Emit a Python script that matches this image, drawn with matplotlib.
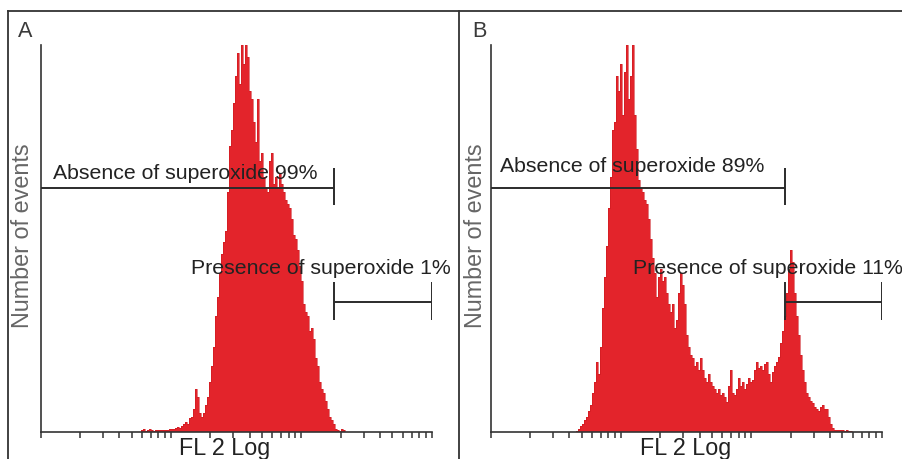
import numpy as np
import matplotlib
matplotlib.use("Agg")
import matplotlib.pyplot as plt
from matplotlib.lines import Line2D
from matplotlib.ticker import LogLocator, NullFormatter

# ---------------- data ----------------
# histogram counts (% of peak) in consecutive log-channels
counts_A = [0.5, 0.8, 0.3, 0.5, 0.8, 0.5, 0.3, 0.6, 0.5, 0.4,
            0.6, 0.5, 0.5, 0.6, 0.8, 0.9, 0.7, 1.0, 1.2, 1.0,
            1.5, 2.0, 2.5, 2.0, 3.5, 4.0, 6.0, 11.0, 9.0, 5.0,
            4.0, 5.0, 7.0, 9.0, 13.0, 17.0, 22.0, 30.0, 35.0, 41.0,
            46.0, 49.0, 52.0, 62.0, 74.0, 78.0, 85.0, 92.0, 98.0, 90.0,
            100.0, 95.0, 100.0, 97.0, 88.0, 86.0, 80.0, 75.0, 86.0, 70.0,
            72.0, 66.0, 63.0, 62.0, 70.0, 72.0, 64.0, 66.0, 63.0, 67.0,
            64.0, 62.0, 60.0, 59.0, 58.0, 55.0, 51.0, 50.0, 47.0, 43.0,
            39.0, 33.0, 31.0, 30.0, 26.0, 27.0, 24.0, 19.0, 17.0, 13.0,
            11.0, 10.0, 8.0, 6.0, 4.0, 3.0, 2.0, 0.8, 0.5, 0.3,
            0.8, 0.5, 0.0]
counts_B = [0.3, 0.8, 1.5, 2.0, 3.0, 4.0, 5.5, 7.0, 10.0, 13.0,
            18.0, 15.0, 22.0, 32.0, 40.0, 48.0, 58.0, 66.0, 78.0, 80.0,
            92.0, 88.0, 95.0, 82.0, 93.0, 100.0, 86.0, 92.0, 100.0, 82.0,
            73.0, 65.0, 63.0, 62.0, 60.0, 59.0, 55.0, 50.0, 45.0, 41.0,
            35.0, 40.0, 42.0, 39.0, 40.0, 36.0, 33.0, 31.0, 33.0, 27.0,
            29.0, 36.0, 41.0, 38.0, 33.0, 25.0, 22.0, 20.0, 19.0, 17.0,
            18.0, 16.0,
            19.0, 16.0, 14.0, 13.0, 15.0, 13.0, 12.0, 11.0, 10.0, 11.0,
            9.5, 10.0, 9.0, 7.7, 12.0, 16.0, 10.0, 9.5, 11.0, 14.0,
            12.0, 13.0, 11.0, 12.5, 14.0, 13.0, 13.5, 16.0, 18.0, 16.5,
            17.0, 16.0, 17.5, 18.0, 15.0, 13.0, 15.5, 17.0, 18.0, 19.5,
            23.0, 26.0, 30.0, 36.0, 42.0, 47.0, 44.0, 36.0, 30.0, 25.0,
            20.0, 16.0, 13.0, 10.0, 9.0, 8.0, 7.5, 6.5, 6.0, 5.5,
            6.5, 7.0, 6.0, 6.0, 4.0, 2.0, 1.0, 0.5, 0.4, 0.6,
            0.4, 0.5, 0.3, 0.4, 0.3, 0.2]
start_decade_A = 0.770   # log10 of first channel's lower edge
start_decade_B = 0.655
channel_width_decades = 0.01535

panel_labels = ["A", "B"]
absence_labels = ["Absence of superoxide 99%", "Absence of superoxide 89%"]
presence_labels = ["Presence of superoxide 1%", "Presence of superoxide 11%"]
gate_split = [178.0, 181.5]
xlabel = "FL 2 Log"
ylabel = "Number of events"

# ---------------- style ----------------
W, H = 903, 460
RED = "#e3242b"
RED_EDGE = "#cc1a20"
DARK = "#2b2b2b"
FONT = ["Liberation Sans", "DejaVu Sans"]

fig = plt.figure(figsize=(W / 100, H / 100), dpi=100)
fig.patch.set_facecolor("white")


def fx(x):
    return x / W


def fy(y):
    return 1 - y / H


# panel frames
frame_kw = dict(color="#333333", lw=1.3, transform=fig.transFigure)
fig.add_artist(Line2D([fx(8.3), fx(903)], [fy(11.7), fy(11.7)], **frame_kw))
fig.add_artist(Line2D([fx(8.3), fx(8.3)], [fy(11.7), fy(460)], **frame_kw))
fig.add_artist(Line2D([fx(459.3), fx(459.3)], [fy(11.7), fy(460)], **frame_kw))

axes_left_px = [40.7, 490.7]
axes_w_px = 391.0
axes_top_px, axes_bot_px = 46.0, 433.0

starts = [start_decade_A, start_decade_B]
datasets = [counts_A, counts_B]
abs_text_pos = [(1.24, 65.6), (1.18, 67.5)]
pres_text_pos = [(14.2, 41.1), (12.4, 41.1)]
xlabel_center_px = [225.0, 686.0]
letter_px = [18.0, 472.7]
ylabel_center_px = [23.0, 476.0]

for i in range(2):
    ax = fig.add_axes([fx(axes_left_px[i]), fy(axes_bot_px),
                       axes_w_px / W, (axes_bot_px - axes_top_px) / H])
    ax.set_xscale("log")
    ax.set_xlim(1, 1000)
    ax.set_ylim(0, 100)
    vals = np.array(datasets[i], dtype=float)
    edges = 10 ** (starts[i] + channel_width_decades * np.arange(len(vals) + 1))
    ax.stairs(vals, edges, fill=True, color=RED, zorder=2)
    ax.stairs(vals, edges, fill=False, color=RED_EDGE, lw=0.4, zorder=2.1)

    for s in ["top", "right"]:
        ax.spines[s].set_visible(False)
    for s in ["left", "bottom"]:
        ax.spines[s].set_color("#333333")
        ax.spines[s].set_linewidth(1.2)
        ax.spines[s].set_zorder(3)
    ax.set_yticks([])
    ax.xaxis.set_major_locator(LogLocator(base=10, numticks=10))
    ax.xaxis.set_minor_locator(LogLocator(base=10, subs=np.arange(2, 10), numticks=10))
    ax.xaxis.set_major_formatter(NullFormatter())
    ax.xaxis.set_minor_formatter(NullFormatter())
    ax.tick_params(axis="x", which="both", direction="out", length=4.5,
                   width=1.1, color="#333333")
    ax.patch.set_alpha(0)

    # gates
    gkw = dict(color=DARK, lw=1.4, zorder=4, solid_capstyle="butt")
    g = gate_split[i]
    ax.plot([1, g], [63.0, 63.0], **gkw)
    ax.plot([g, g], [58.7, 68.2], **gkw)
    ax.plot([g, 1000], [33.7, 33.7], **gkw)
    ax.plot([g, g], [28.9, 38.8], **gkw)
    ax.plot([1000, 1000], [28.9, 38.8], **gkw)

    ax.text(abs_text_pos[i][0], abs_text_pos[i][1], absence_labels[i],
            fontsize=15.3, family=FONT, color="#222222", va="baseline",
            ha="left", zorder=5)
    ax.text(pres_text_pos[i][0], pres_text_pos[i][1], presence_labels[i],
            fontsize=15.3, family=FONT, color="#222222", va="baseline",
            ha="left", zorder=5)

    fig.text(fx(xlabel_center_px[i]), fy(455), xlabel, fontsize=16.8,
             family=FONT, color="#222222", ha="center", va="baseline")
    fig.text(fx(letter_px[i]), fy(37.3), panel_labels[i], fontsize=15.6,
             family=FONT, color="#3a3a3a", ha="left", va="baseline")
    fig.text(fx(ylabel_center_px[i]), fy(235.5), ylabel, fontsize=16.8,
             family=FONT, color="#666666", rotation=90, ha="center",
             va="center")

fig.savefig("out.png", dpi=100, facecolor="white")
